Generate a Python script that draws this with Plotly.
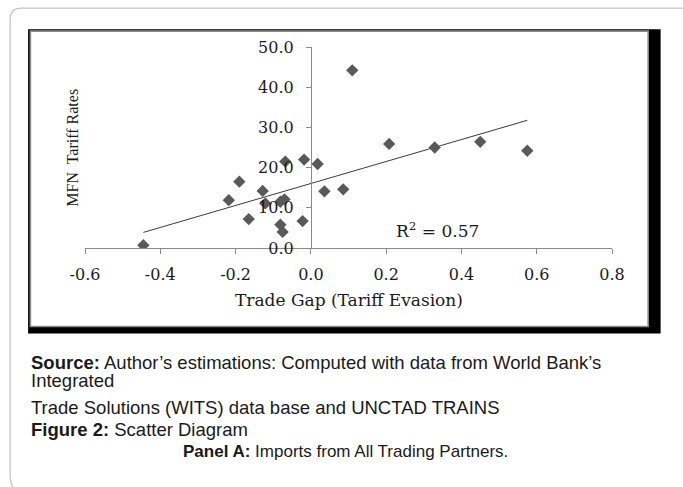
import numpy as np
import plotly.graph_objects as go

# ---- data ----
trade_gap = [-0.445, -0.218, -0.190, -0.165, -0.128, -0.121, -0.081, -0.070,
             -0.081, -0.075, -0.068, -0.022, -0.018, 0.018, 0.036, 0.086,
             0.110, 0.208, 0.329, 0.450, 0.575]
mfn_tariff = [0.7, 11.9, 16.5, 7.2, 14.2, 11.1, 11.5, 12.1,
              5.8, 4.0, 21.5, 6.7, 22.0, 20.9, 14.1, 14.6,
              44.2, 25.9, 25.0, 26.4, 24.2]
x_ticks = [-0.6, -0.4, -0.2, 0.0, 0.2, 0.4, 0.6, 0.8]
x_tick_labels = ["-0.6", "-0.4", "-0.2", "0.0", "0.2", "0.4", "0.6", "0.8"]
y_ticks = [0, 10, 20, 30, 40, 50]
y_tick_labels = ["0.0", "10.0", "20.0", "30.0", "40.0", "50.0"]
r2_label = "R<sup>2</sup> = 0.57"

# ---- linear trend fitted from the data ----
slope, intercept = np.polyfit(trade_gap, mfn_tariff, 1)
trend_x = [min(trade_gap), max(trade_gap)]
trend_y = [intercept + slope * v for v in trend_x]

# ---- layout geometry (pixels) ----
W, H = 683, 487
L, R, T, B = 84.5, 70.7, 47.3, 239.3
PW, PH = W - L - R, H - T - B


def px(xp):
    return (xp - L) / PW


def py(yp):
    return (H - B - yp) / PH


fig = go.Figure()
fig.add_trace(go.Scatter(
    x=trend_x, y=trend_y, mode="lines",
    line=dict(color="#3a3a3a", width=1), hoverinfo="skip", showlegend=False))
fig.add_trace(go.Scatter(
    x=trade_gap, y=mfn_tariff, mode="markers",
    marker=dict(symbol="diamond", size=9.5, color="#595959",
                line=dict(width=0)),
    showlegend=False))

axis_font = dict(family="DejaVu Serif", size=16, color="#1a1a1a")
fig.update_xaxes(range=[-0.6, 0.8], tickvals=x_ticks, ticktext=x_tick_labels,
                 showline=True, linecolor="#8a8a8a", linewidth=1,
                 ticks="outside", ticklen=5, tickcolor="#8a8a8a",
                 showgrid=False, zeroline=False, tickfont=axis_font,
                 ticklabelstandoff=7, fixedrange=True)
fig.update_yaxes(range=[0, 50], tickvals=y_ticks, ticktext=y_tick_labels,
                 anchor="free", position=0.6 / 1.4,
                 showline=True, linecolor="#8a8a8a", linewidth=1,
                 ticks="outside", ticklen=5, tickcolor="#8a8a8a",
                 showgrid=False, zeroline=False, tickfont=axis_font,
                 ticklabelstandoff=9, fixedrange=True)

shapes = []
# page border (light grey, rounded top-left / bottom-left)
path = (f"M {px(700)},{py(8.5)} L {px(21)},{py(8.5)} "
        f"Q {px(9.5)},{py(8.5)} {px(9.5)},{py(20)} "
        f"L {px(9.5)},{py(474)} Q {px(9.5)},{py(483)} {px(13)},{py(486)}")
shapes.append(dict(type="path", xref="paper", yref="paper", path=path,
                   line=dict(color="#c4c4c4", width=1.3), layer="below"))
# chart frame with black drop shadow
shapes.append(dict(type="rect", xref="paper", yref="paper",
                   x0=px(27.5), x1=px(661), y0=py(29.5), y1=py(333),
                   fillcolor="black", line=dict(width=0), layer="below"))
shapes.append(dict(type="rect", xref="paper", yref="paper",
                   x0=px(29.8), x1=px(648.5), y0=py(31.5), y1=py(326),
                   fillcolor="white", line=dict(color="#8c8c8c", width=1.6),
                   layer="below"))

annotations = [
    dict(text="MFN  Tariff Rates", xref="paper", yref="paper",
         x=px(71.7), y=py(147.5), textangle=-90, showarrow=False,
         xanchor="center", yanchor="middle",
         font=dict(family="Liberation Serif", size=16, color="#1a1a1a")),
    dict(text="Trade Gap (Tariff Evasion)", xref="paper", yref="paper",
         x=0.5, y=py(300), showarrow=False, xanchor="center", yanchor="middle",
         font=dict(family="DejaVu Serif", size=17, color="#1a1a1a")),
    dict(text=r2_label, x=0.222, y=4.4, xref="x", yref="y", showarrow=False,
         xanchor="left", yanchor="middle",
         font=dict(family="DejaVu Serif", size=17, color="#1a1a1a")),
]

captions = [
    ("<b>Source:</b> Author’s estimations: Computed with data from World Bank’s", 28, 361.5, "left", 18.5),
    ("Integrated", 28, 379.5, "left", 18.5),
    ("Trade Solutions (WITS) data base and UNCTAD TRAINS", 28, 407, "left", 18.5),
    ("<b>Figure 2:</b> Scatter Diagram", 28, 429, "left", 18.5),
    ("<b>Panel A:</b> Imports from All Trading Partners.", 345, 451, "center", 17),
]
for txt, xp, yp, anc, fs in captions:
    annotations.append(dict(text=txt, xref="paper", yref="paper", x=px(xp),
                            y=py(yp), showarrow=False, xanchor=anc,
                            yanchor="middle",
                            font=dict(family="Liberation Sans", size=fs,
                                      color="#1a1a1a")))

fig.update_layout(
    width=W, height=H, autosize=False,
    margin=dict(l=L, r=R, t=T, b=B, autoexpand=False),
    paper_bgcolor="white", plot_bgcolor="rgba(0,0,0,0)",
    shapes=shapes, annotations=annotations, showlegend=False,
)

fig.write_html(
    "out.html", config={"displayModeBar": False},
    post_script="document.body.style.margin='0';"
                "document.body.style.overflow='hidden';"
                "document.documentElement.style.overflow='hidden';")
